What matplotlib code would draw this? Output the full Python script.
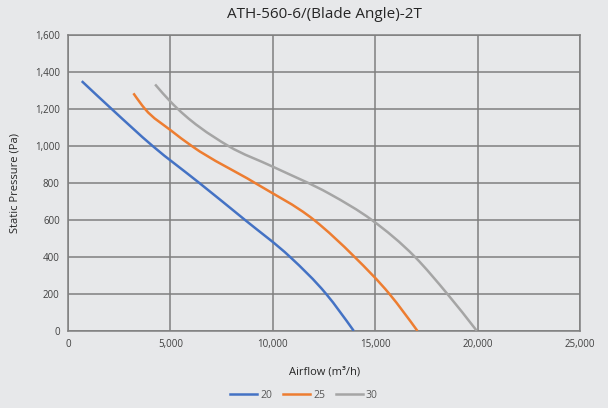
import matplotlib
matplotlib.use("Agg")
import matplotlib.pyplot as plt
import numpy as np
from matplotlib.ticker import FuncFormatter
from matplotlib.path import Path
from matplotlib.patches import PathPatch
from matplotlib.lines import Line2D

plt.rcParams['font.family'] = ['Open Sans', 'DejaVu Sans']

title = "ATH-560-6/(Blade Angle)-2T"
series_names = ["20", "25", "30"]
colors = ["#4472C4", "#ED7D31", "#A5A5A5"]

airflow_20 = [667, 2130, 4130, 6410, 8640, 10840, 12600, 13950]
pressure_20 = [1351, 1200, 1000, 800, 600, 400, 200, 0]

airflow_25 = [3190, 3760, 5000, 6040, 9130, 12010, 13990, 15690, 17060]
pressure_25 = [1285, 1200, 1086, 1000, 800, 600, 400, 200, 0]

airflow_30 = [4250, 5000, 7830, 10000, 12790, 14830, 16940, 18520, 19960]
pressure_30 = [1333, 1240, 1000, 888, 740, 600, 400, 200, 0]

xs = [airflow_20, airflow_25, airflow_30]
ys = [pressure_20, pressure_25, pressure_30]

X_MAX, Y_MAX = 25000, 1600


def smooth_path(x, y):
    """Cubic Hermite curve through the given points (three-point derivative),
    drawn as Bezier segments: a smoothed line through the data, as Excel does."""
    x = np.asarray(x, float)
    y = np.asarray(y, float)
    h = np.diff(x)
    s = np.diff(y) / h
    n = len(x)
    m = np.zeros(n)
    for i in range(1, n - 1):
        m[i] = (s[i - 1] * h[i] + s[i] * h[i - 1]) / (h[i - 1] + h[i])
    m[0] = 1.5 * s[0] - 0.5 * m[1]
    m[-1] = 1.5 * s[-1] - 0.5 * m[-2]
    verts = [(x[0], y[0])]
    codes = [Path.MOVETO]
    for i in range(n - 1):
        c1 = (x[i] + h[i] / 3.0, y[i] + m[i] * h[i] / 3.0)
        c2 = (x[i + 1] - h[i] / 3.0, y[i + 1] - m[i + 1] * h[i] / 3.0)
        verts += [c1, c2, (x[i + 1], y[i + 1])]
        codes += [Path.CURVE4] * 3
    return Path(verts, codes)


bg = "#E7E8EA"
fig = plt.figure(figsize=(6.08, 4.08), dpi=100, facecolor=bg)
ax = fig.add_axes([0.112, 0.189, 0.842, 0.725])
ax.set_facecolor(bg)

handles = []
for x, y, c, n in zip(xs, ys, colors, series_names):
    ax.add_patch(PathPatch(smooth_path(x, y), fill=False, edgecolor=c, lw=1.8,
                           capstyle='butt', zorder=3))
    handles.append(Line2D([], [], color=c, lw=1.8, label=n))

ax.set_xlim(0, X_MAX)
ax.set_ylim(0, Y_MAX)
ax.set_xticks(range(0, X_MAX + 1, 5000))
ax.set_yticks(range(0, Y_MAX + 1, 200))
fmt = FuncFormatter(lambda v, p: f"{int(v):,}")
ax.xaxis.set_major_formatter(fmt)
ax.yaxis.set_major_formatter(fmt)
ax.grid(True, color="#7F7F7F", lw=1.1)
ax.set_axisbelow(True)
for s in ax.spines.values():
    s.set_color("#7F7F7F")
    s.set_linewidth(1.1)
ax.tick_params(length=0, labelsize=7, colors="#404040", pad=6)

ax.set_title(title, fontsize=11, color="#262626", pad=12)
ax.set_xlabel("Airflow (m³/h)", fontsize=8, color="#262626", labelpad=12)
ax.set_ylabel("Static Pressure (Pa)", fontsize=8, color="#262626", labelpad=10)

fig.legend(handles=handles, loc="lower center", bbox_to_anchor=(0.5, -0.005), ncol=3,
           frameon=False, fontsize=7.5, handlelength=2.6, columnspacing=1.0,
           handletextpad=0.3, labelcolor="#595959")

fig.savefig("out.png", dpi=100, facecolor=bg)
